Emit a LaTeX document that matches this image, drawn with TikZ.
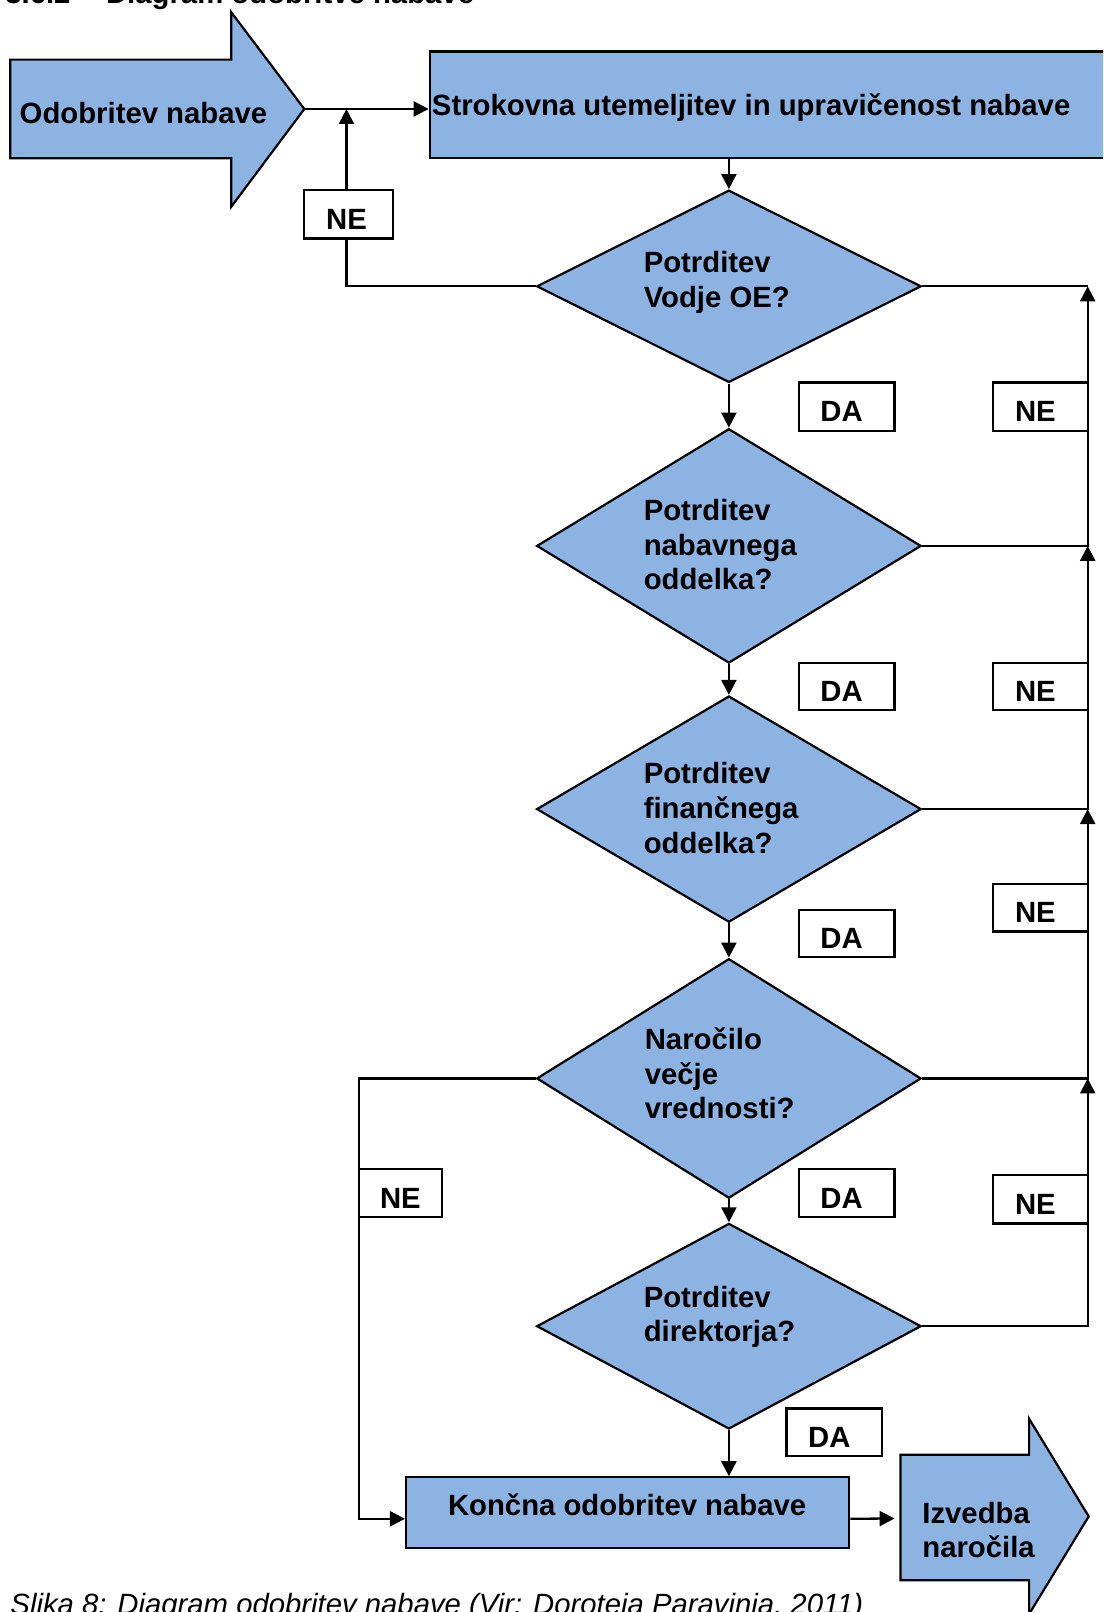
\documentclass[tikz,border=0pt]{standalone}
\usepackage{fontspec}
\setmainfont{Liberation Sans}
\usetikzlibrary{arrows.meta,shapes.geometric,fit}
\definecolor{stepblue}{RGB}{141,179,226}
\newcommand{\dgu}{1.028pt}
\begin{document}
\begin{tikzpicture}[x=\dgu,y=-\dgu,
  font=\fontsize{29.3}{35}\selectfont\bfseries,
  bluebox/.style={draw=black,line width=2.2pt,fill=stepblue,inner sep=0pt},
  decision/.style={bluebox,diamond,minimum width=374*\dgu},
  tagbox/.style={draw=black,line width=2.2pt,fill=white,inner sep=0pt},
  tagtext/.style={inner sep=0pt,xshift=-5pt,yshift=-5pt},
  line/.style={line width=2.3pt},
  flow/.style={line width=2.3pt,-{Triangle[length=15pt,width=15pt]}},
  txt/.style={anchor=base west,inner sep=0pt},
]
\useasboundingbox (0,0) rectangle (1073,1568);
\clip (0,0) rectangle (1073,1568);

% section heading
\node[txt] (hnum) at (5,3) {3.6.2};
\node[txt] (htitle) at (103,3) {Diagram odobritve nabave};

% entry arrow
\draw[bluebox] (10,58) -- (225,58) -- (225,12) -- (296,106) -- (225,201) -- (225,154) -- (10,154) -- cycle;
\coordinate (startTip) at (296,106);
\node[txt] (startText) at (19,120) {Odobritev nabave};

% first step
\node[bluebox,fit={(418,50) (1090,154)}] (strok) {};
\node[txt] (strokText) at (420,112) {Strokovna utemeljitev in upravičenost nabave};

% decisions
\node[decision,minimum height=187*\dgu] (d1) at (709,278.5) {};
\node[decision,minimum height=228*\dgu] (d2) at (709,531) {};
\node[decision,minimum height=220*\dgu] (d3) at (709,787) {};
\node[decision,minimum height=233*\dgu] (d4) at (709,1049) {};
\node[decision,minimum height=200*\dgu] (d5) at (709,1290) {};

\node[txt] (d1a) at (626,265) {Potrditev};
\node[txt] (d1b) at (626,299) {Vodje OE?};
\node[txt] (d2a) at (626,506) {Potrditev};
\node[txt] (d2b) at (626,540) {nabavnega};
\node[txt] (d2c) at (626,573) {oddelka?};
\node[txt] (d3a) at (626,762) {Potrditev};
\node[txt] (d3b) at (626,796) {finančnega};
\node[txt] (d3c) at (626,830) {oddelka?};
\node[txt] (d4a) at (627,1021) {Naročilo};
\node[txt] (d4b) at (627,1055) {večje};
\node[txt] (d4c) at (627,1088) {vrednosti?};
\node[txt] (d5a) at (626,1272) {Potrditev};
\node[txt] (d5b) at (626,1305) {direktorja?};

% final approval
\node[bluebox,fit={(395,1437) (826,1506)}] (kon) {};
\node[anchor=base,inner sep=0pt] (konText) at (610,1474) {Končna odobritev nabave};

% exit arrow
\draw[bluebox] (876,1415) -- (1001,1415) -- (1001,1380) -- (1059,1475) -- (1001,1570) -- (1001,1537) -- (876,1537) -- cycle;
\coordinate (izvBack) at (876,1477);
\node[txt] (izvA) at (897,1482) {Izvedba};
\node[txt] (izvB) at (897,1515) {naročila};

% rails
\coordinate (rail) at (1058,0);
\coordinate (leftrail) at (349,0);

% main flow
\draw[flow] (startTip) -- (startTip -| strok.west);
\draw[flow] (d1.north |- strok.south) -- (d1.north);
\draw[flow] (d1.south) -- (d2.north);
\draw[flow] (d2.south) -- (d3.north);
\draw[flow] (d3.south) -- (d4.north);
\draw[flow] (d4.south) -- (d5.north);
\draw[flow] (d5.south) -- (d5.south |- kon.north);
\draw[flow] ([yshift=-6pt]kon.east) -- ([xshift=-6pt]izvBack);

% rejection from the head of unit
\draw[line] (d1.west) -| (337,232);
\draw[flow] (337,185) -- (337,106);

% rejections on the right
\draw[line] (d1.east) -- (d1.east -| rail);
\draw[flow] (d2.east) -| (d1.east -| rail);
\draw[flow] (d3.east) -| (d2.east -| rail);
\draw[flow] (d4.east) -| (d3.east -| rail);
\draw[flow] (d5.east) -| (d4.east -| rail);

% smaller orders go straight to final approval
\draw[flow] (d4.west) -- (d4.west -| leftrail) |- ([yshift=-6pt]kon.west);

% answer tags
\node[tagbox,fit={(296,185) (382,232)}] (neTop) {};
\node[tagtext,xshift=3pt] (neTopText) at (neTop.center) {NE};
\node[tagbox,fit={(966,372) (1058,419)}] (neR1) {};
\node[tagtext] (neR1Text) at (neR1.center) {NE};
\node[tagbox,fit={(966,645) (1058,691)}] (neR2) {};
\node[tagtext] (neR2Text) at (neR2.center) {NE};
\node[tagbox,fit={(966,860) (1058,906)}] (neR3) {};
\node[tagtext] (neR3Text) at (neR3.center) {NE};
\node[tagbox,fit={(966,1143) (1058,1190)}] (neR4) {};
\node[tagtext] (neR4Text) at (neR4.center) {NE};
\node[tagbox,fit={(349,1137) (430,1184)}] (neL) {};
\node[tagtext,xshift=5pt] (neLText) at (neL.center) {NE};
\node[tagbox,fit={(777,372) (870,419)}] (da1) {};
\node[tagtext] (da1Text) at (da1.center) {DA};
\node[tagbox,fit={(777,645) (870,691)}] (da2) {};
\node[tagtext] (da2Text) at (da2.center) {DA};
\node[tagbox,fit={(777,885) (870,931)}] (da3) {};
\node[tagtext] (da3Text) at (da3.center) {DA};
\node[tagbox,fit={(777,1137) (870,1184)}] (da4) {};
\node[tagtext] (da4Text) at (da4.center) {DA};
\node[tagbox,fit={(765,1370) (858,1416)}] (da5) {};
\node[tagtext] (da5Text) at (da5.center) {DA};

% caption
\node[txt,font=\fontsize{29.3}{35}\selectfont\mdseries\itshape] (caption) at (10,1570) {Slika 8: Diagram odobritev nabave (Vir: Doroteja Paravinja, 2011)};
\end{tikzpicture}
\end{document}
